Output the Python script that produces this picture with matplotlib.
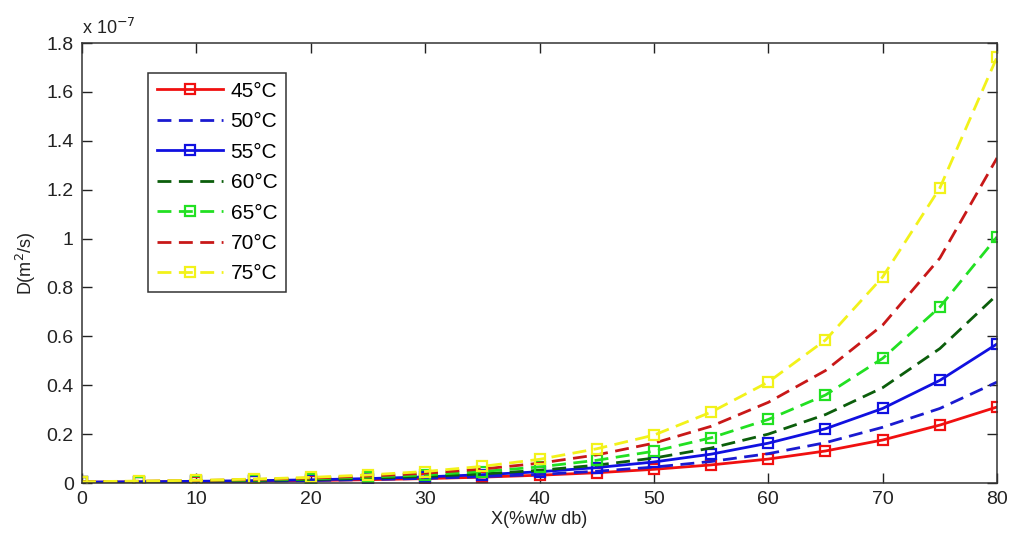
import matplotlib
matplotlib.use("Agg")
import matplotlib.pyplot as plt

# Moisture content X (%w/w db)
moisture = [0, 5, 10, 15, 20, 25, 30, 35, 40, 45, 50, 55, 60, 65, 70, 75, 80]

# Effective diffusivity D, in units of 1e-7 m^2/s
d_45 = [0.0032, 0.0043, 0.0057, 0.0076, 0.010, 0.0135, 0.018, 0.024, 0.032, 0.042,
        0.056, 0.074, 0.098, 0.131, 0.176, 0.237, 0.311]
d_50 = [0.0030, 0.0040, 0.0055, 0.0075, 0.010, 0.014, 0.019, 0.026, 0.035, 0.048,
        0.065, 0.088, 0.120, 0.165, 0.228, 0.305, 0.413]
d_55 = [0.0037, 0.0050, 0.0070, 0.0095, 0.013, 0.018, 0.025, 0.034, 0.046, 0.063,
        0.086, 0.118, 0.163, 0.222, 0.305, 0.420, 0.569]
d_60 = [0.0036, 0.0050, 0.0070, 0.010, 0.014, 0.019, 0.027, 0.037, 0.052, 0.073,
        0.102, 0.143, 0.200, 0.280, 0.390, 0.550, 0.770]
d_65 = [0.0043, 0.0060, 0.0085, 0.012, 0.017, 0.024, 0.033, 0.047, 0.066, 0.093,
        0.130, 0.185, 0.260, 0.360, 0.510, 0.720, 1.007]
d_70 = [0.0050, 0.0070, 0.010, 0.014, 0.020, 0.028, 0.040, 0.057, 0.081, 0.115,
        0.163, 0.232, 0.330, 0.460, 0.646, 0.920, 1.330]
d_75 = [0.0050, 0.0080, 0.011, 0.016, 0.023, 0.033, 0.047, 0.068, 0.097, 0.140,
        0.196, 0.290, 0.413, 0.585, 0.843, 1.207, 1.743]

labels = ["45°C", "50°C", "55°C", "60°C", "65°C", "70°C", "75°C"]
series = [d_45, d_50, d_55, d_60, d_65, d_70, d_75]

colors = ["#f01010", "#1a1ad0", "#1010e0", "#0b5e0b", "#22e022", "#c81818", "#f2f21a"]
dashed = [False, True, False, True, True, True, True]
marked = [True, False, True, False, True, False, True]

plt.rcParams["font.family"] = ["Liberation Sans", "DejaVu Sans"]

fig = plt.figure(figsize=(10.14, 5.41), dpi=100)
ax = fig.add_axes([0.0809, 0.1072, 0.9024, 0.8133])

for y, lab, c, dsh, mk in zip(series, labels, colors, dashed, marked):
    kw = dict(color=c, lw=2.0, label=lab)
    if mk:
        kw.update(marker="s", markersize=7.5, markerfacecolor="none",
                  markeredgecolor=c, markeredgewidth=1.6)
    line, = ax.plot(moisture, y, **kw)
    if dsh:
        line.set_dashes((5.0, 2.7))

ax.set_xlim(0, 80)
ax.set_ylim(0, 1.8)
ax.set_xticks(range(0, 81, 10))
yt = [0, 0.2, 0.4, 0.6, 0.8, 1.0, 1.2, 1.4, 1.6, 1.8]
ax.set_yticks(yt)
ax.set_yticklabels(["0", "0.2", "0.4", "0.6", "0.8", "1", "1.2", "1.4", "1.6", "1.8"])
ax.tick_params(direction="in", top=True, right=True, labelsize=14, length=7,
               width=1, pad=6, colors="#222222")
for s in ax.spines.values():
    s.set_color("#333333")
    s.set_linewidth(1.1)

ax.set_xlabel("X(%w/w db)", fontsize=13, color="#222222", labelpad=2)
ax.set_ylabel("D(m$^2$/s)", fontsize=13, color="#222222", labelpad=6)
ax.text(0.0, 1.012, r"x 10$^{-7}$", transform=ax.transAxes, fontsize=13,
        color="#222222", ha="left", va="bottom")

leg = ax.legend(loc="upper left", bbox_to_anchor=(0.072, 0.932), borderaxespad=0,
                fontsize=15, handlelength=3.2, numpoints=1, fancybox=False,
                framealpha=1, edgecolor="#333333", labelspacing=0.55,
                handletextpad=0.35, borderpad=0.42)
leg.get_frame().set_linewidth(1.1)

fig.savefig("out.png", dpi=100, facecolor="white")
